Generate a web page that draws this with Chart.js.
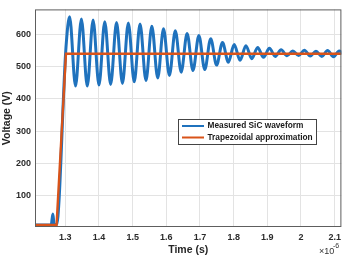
<!DOCTYPE html>
<html>
<head>
<meta charset="utf-8">
<script src="https://cdn.jsdelivr.net/npm/chart.js@4.4.0/dist/chart.umd.min.js"></script>
<style>
  body { margin: 0; background: #fff; }
  #wrap { width: 346px; height: 257px; position: relative; }
</style>
</head>
<body>
<div id="wrap"><canvas id="myChart"></canvas></div>
<script>
// time in units of 1e-6 s, voltage in V
var measuredTime = [1.21, 1.258, 1.263, 1.267, 1.274, 1.302,
    1.3128, 1.3303, 1.3478, 1.3653, 1.3825, 1.4, 1.4172, 1.4347, 1.4522, 1.4697,
    1.4872, 1.5047, 1.522, 1.5395, 1.557, 1.5745, 1.5917, 1.6092, 1.6267, 1.6442,
    1.6617, 1.6792, 1.6967, 1.7142, 1.7318, 1.7493, 1.7668, 1.7843, 1.8015, 1.819,
    1.8365, 1.854, 1.8712, 1.8887, 1.9062, 1.9237, 1.9409, 1.9584, 1.9757, 1.9932,
    2.0101, 2.0276, 2.0445, 2.062, 2.0789, 2.0964, 2.1134, 2.131];
var measuredVolt = [8, 8, 42, 10, 10, 560,
    655, 440, 648, 440, 645, 443, 640, 445, 637, 448,
    636, 453, 633, 457, 626, 465, 618, 473, 612, 483,
    603, 488, 597, 491, 587, 505, 575, 514, 569, 520,
    565, 525, 560, 529, 557, 532, 553, 534, 549, 535,
    551, 533, 548, 532, 550, 531, 549, 533];
var trapTime = [1.21, 1.274, 1.302, 2.12];
var trapVolt = [8, 8, 540, 540];

var xTicks = [1.3, 1.4, 1.5, 1.6, 1.7, 1.8, 1.9, 2.0, 2.1];
var xTickLabels = ['1.3', '1.4', '1.5', '1.6', '1.7', '1.8', '1.9', '2', '2.1'];
var yTicks = [100, 200, 300, 400, 500, 600];
var seriesNames = ['Measured SiC waveform', 'Trapezoidal approximation'];
var seriesColors = ['#1f72bd', '#d95319'];

function toPoints(xs, ys) {
    var pts = [];
    for (var i = 0; i < xs.length; i++) {
        pts.push({ x: xs[i], y: ys[i] });
    }
    return pts;
}

var boxPlugin = {
    id: 'boxPlugin',
    afterDraw: function (chart) {
        var ctx = chart.ctx;
        var a = chart.chartArea;
        ctx.save();
        // axes box
        ctx.strokeStyle = '#5e5e5e';
        ctx.lineWidth = 1;
        ctx.strokeRect(a.left + 0.5, a.top + 0.5, a.right - a.left - 1, a.bottom - a.top - 1);

        // legend inside the axes
        var lx = 178, ly = 119, lw = 138, lh = 25;
        ctx.fillStyle = '#fff';
        ctx.fillRect(lx, ly, lw, lh);
        ctx.strokeStyle = '#444';
        ctx.strokeRect(lx + 0.5, ly + 0.5, lw, lh);
        ctx.font = 'bold 8.3px "Liberation Sans", Arial, sans-serif';
        ctx.textBaseline = 'middle';
        ctx.textAlign = 'left';
        for (var i = 0; i < seriesNames.length; i++) {
            var ry = ly + 7 + i * 11.5;
            ctx.strokeStyle = seriesColors[i];
            ctx.lineWidth = 2;
            ctx.beginPath();
            ctx.moveTo(lx + 4, ry);
            ctx.lineTo(lx + 26, ry);
            ctx.stroke();
            ctx.fillStyle = '#1a1a1a';
            ctx.fillText(seriesNames[i], lx + 29.5, ry);
        }

        // exponent label
        ctx.fillStyle = '#333';
        ctx.font = '9px "Liberation Sans", Arial, sans-serif';
        ctx.textBaseline = 'alphabetic';
        ctx.fillText('\u00d710', 319, 254);
        ctx.font = '7px "Liberation Sans", Arial, sans-serif';
        ctx.fillText('-6', 333, 248);
        ctx.restore();
    }
};

var tickFont = { family: '"Liberation Sans", Arial, sans-serif', size: 9, weight: 'bold' };
var titleFont = { family: '"Liberation Sans", Arial, sans-serif', size: 10.5, weight: 'bold' };

var config = {
    type: 'line',
    data: {
        datasets: [{
            label: seriesNames[0],
            data: toPoints(measuredTime, measuredVolt),
            borderColor: seriesColors[0],
            borderWidth: 3,
            pointRadius: 0,
            cubicInterpolationMode: 'monotone',
            order: 2
        }, {
            label: seriesNames[1],
            data: toPoints(trapTime, trapVolt),
            borderColor: seriesColors[1],
            borderWidth: 2.4,
            pointRadius: 0,
            tension: 0,
            order: 1
        }]
    },
    options: {
        responsive: true,
        maintainAspectRatio: false,
        animation: false,
        devicePixelRatio: 1,
        layout: { padding: { top: 7, right: 4, left: 0, bottom: 0 } },
        plugins: {
            legend: { display: false },
            tooltip: { enabled: false }
        },
        scales: {
            x: {
                type: 'linear',
                min: 1.21,
                max: 2.12,
                afterBuildTicks: function (s) {
                    s.ticks = xTicks.map(function (v) { return { value: v }; });
                },
                afterFit: function (s) { s.height = 30; },
                ticks: {
                    font: tickFont,
                    color: '#2b2b2b',
                    padding: 5,
                    maxRotation: 0,
                    callback: function (v) {
                        var i = xTicks.indexOf(Math.round(v * 10) / 10);
                        return i >= 0 ? xTickLabels[i] : '';
                    }
                },
                grid: { color: '#e3e3e3', drawTicks: false },
                border: { display: false },
                title: {
                    display: true,
                    text: 'Time (s)',
                    font: titleFont,
                    color: '#262626',
                    padding: { top: 0, bottom: 1 }
                }
            },
            y: {
                min: 2,
                max: 678,
                afterBuildTicks: function (s) {
                    s.ticks = yTicks.map(function (v) { return { value: v }; });
                },
                afterFit: function (s) { s.width = 35; },
                ticks: {
                    font: tickFont,
                    color: '#2b2b2b',
                    padding: 4
                },
                grid: { color: '#e3e3e3', drawTicks: false },
                border: { display: false },
                title: {
                    display: true,
                    text: 'Voltage (V)',
                    font: titleFont,
                    color: '#262626',
                    padding: { top: 1, bottom: 0 }
                }
            }
        }
    },
    plugins: [boxPlugin]
};

var myChart = new Chart(document.getElementById('myChart'), config);
</script>
</body>
</html>
